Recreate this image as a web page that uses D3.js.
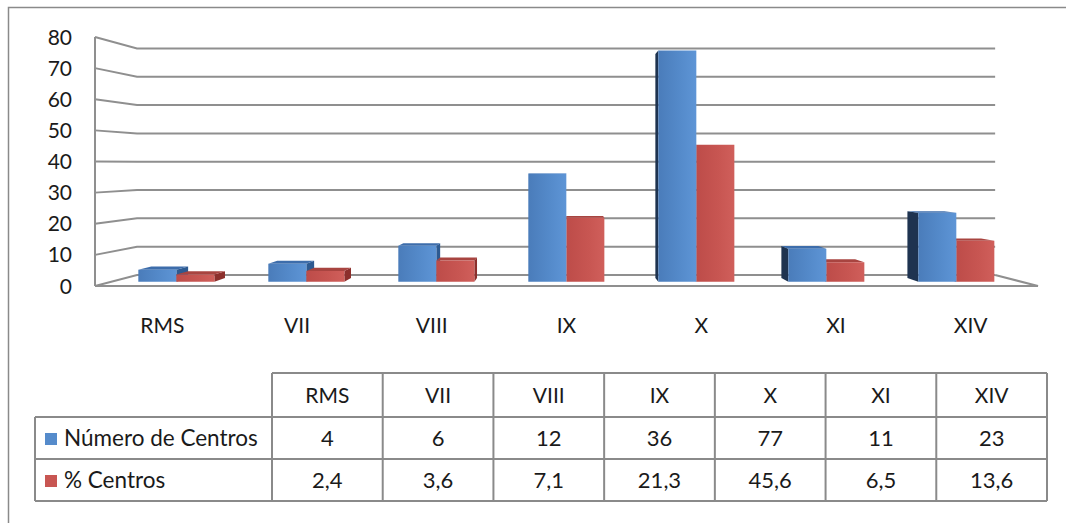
<!DOCTYPE html>
<html>
<head>
<meta charset="utf-8">
<script src="https://cdn.jsdelivr.net/npm/d3@7"></script>
<style>
  html, body { margin: 0; padding: 0; background: #fff; }
  svg { display: block; }
  text { font-family: Lato, "Open Sans", sans-serif; fill: #1a1a1a; }
</style>
</head>
<body>
<svg id="chart" width="1066" height="523"></svg>
<script>
// Centros por categoría: número absoluto y porcentaje
const categories = ["RMS", "VII", "VIII", "IX", "X", "XI", "XIV"];
const numeroCentros = [4, 6, 12, 36, 77, 11, 23];
const pctCentros = [2.4, 3.6, 7.1, 21.3, 45.6, 6.5, 13.6];
const seriesNames = ["Número de Centros", "% Centros"];
const yTicks = [0, 10, 20, 30, 40, 50, 60, 70, 80];

const palette = {
  "Número de Centros": { front: ["#4a7cba", "#558bcb", "#5e95d6"], top: "#3d6dab", right: "#2d5a91", left: "#1e3350" },
  "% Centros": { front: ["#bd4c49", "#c85652", "#d05f5b"], top: "#a84440", right: "#8c2f2c", left: "#5e1f1d" }
};

const esLocale = d3.formatLocale({ decimal: ",", thousands: ".", grouping: [3], currency: ["", " €"] });
const fmtPct = esLocale.format(".1f");
const fmtNum = esLocale.format("d");

const svg = d3.select("#chart");
const defs = svg.append("defs");

// Perspective of the 3-D plot box: front plane is drawn at depth 0, back wall at depth 1
const VX = 561.7, VY = 163.8, K = 0.0989;
function proj(px, py, d) {
  const s = 1 / (1 + K * d);
  return [VX + s * (px - VX), VY + s * (py - VY)];
}
const poly = pts => "M" + pts.map(p => p.join(",")).join("L") + "Z";
const line = pts => "M" + pts.map(p => p.join(",")).join("L");

const x = d3.scaleBand().domain(categories).range([95, 1038]).padding(0);
const y = d3.scaleLinear().domain([0, 80]).range([286, 37]);
const groupW = x.bandwidth() * 0.585;
const xs = d3.scaleBand().domain(seriesNames)
  .range([(x.bandwidth() - groupW) / 2, (x.bandwidth() + groupW) / 2]).padding(0);
const D0 = 0.367, D1 = 0.697;

// Outer frame
svg.append("rect")
  .attr("x", 8.5).attr("y", 7.5).attr("width", 1080).attr("height", 540)
  .attr("fill", "none").attr("stroke", "#8a8a8a").attr("stroke-width", 1.5);

// Walls and floor grid
const grid = svg.append("g").attr("fill", "none").attr("stroke", "#8f8f8f").attr("stroke-width", 2);
const [x0, x1] = x.range();
yTicks.forEach(t => {
  grid.append("path").attr("d", line([proj(x0, y(t), 0), proj(x0, y(t), 1), proj(x1, y(t), 1)]));
});
grid.append("path").attr("d", line([proj(x0, y(0), 0), proj(x1, y(0), 0), proj(x1, y(0), 1)]));
grid.append("path").attr("d", line([proj(x0, y(0), 0), proj(x0, y(80), 0)]));

// Y tick labels
svg.append("g").selectAll("text").data(yTicks).join("text")
  .attr("x", 72).attr("y", d => y(d)).attr("dy", "0.36em")
  .attr("text-anchor", "end").attr("font-size", 21)
  .text(d => d);

// Bars
seriesNames.forEach((s, si) => {
  const g = defs.append("linearGradient").attr("id", "grad" + si).attr("x1", 0).attr("x2", 1).attr("y1", 0).attr("y2", 0);
  g.append("stop").attr("offset", 0).attr("stop-color", palette[s].front[0]);
  g.append("stop").attr("offset", 0.6).attr("stop-color", palette[s].front[1]);
  g.append("stop").attr("offset", 1).attr("stop-color", palette[s].front[2]);
});

const bars = [];
categories.forEach((c, i) => {
  [numeroCentros[i], pctCentros[i]].forEach((v, si) => {
    const s = seriesNames[si];
    const bx0 = x(c) + xs(s), bx1 = bx0 + xs.bandwidth();
    bars.push({ s, si, v, bx0, bx1, dist: Math.abs((bx0 + bx1) / 2 - VX) });
  });
});
bars.sort((a, b) => b.dist - a.dist);

const barG = svg.append("g");
bars.forEach(b => {
  const top = y(b.v), base = y(0);
  const g = barG.append("g");
  const col = palette[b.s];
  if (b.bx1 < VX) {
    g.append("path").attr("fill", col.right)
      .attr("d", poly([proj(b.bx1, top, D0), proj(b.bx1, top, D1), proj(b.bx1, base, D1), proj(b.bx1, base, D0)]));
  }
  if (b.bx0 > VX) {
    g.append("path").attr("fill", col.left)
      .attr("d", poly([proj(b.bx0, top, D0), proj(b.bx0, top, D1), proj(b.bx0, base, D1), proj(b.bx0, base, D0)]));
  }
  if (top > VY) {
    g.append("path").attr("fill", col.top)
      .attr("d", poly([proj(b.bx0, top, D0), proj(b.bx1, top, D0), proj(b.bx1, top, D1), proj(b.bx0, top, D1)]));
  }
  g.append("path").attr("fill", `url(#grad${b.si})`)
    .attr("d", poly([proj(b.bx0, top, D0), proj(b.bx1, top, D0), proj(b.bx1, base, D0), proj(b.bx0, base, D0)]));
});

// Category labels
svg.append("g").selectAll("text").data(categories).join("text")
  .attr("x", d => x(d) + x.bandwidth() / 2).attr("y", 325).attr("dy", "0.36em")
  .attr("text-anchor", "middle").attr("font-size", 21)
  .text(d => d);

// Data table
const tLeft = 35, tFirst = 272, tRight = 1047;
const rowY = [373, 417, 459, 501];
const tx = d3.scaleBand().domain(categories).range([tFirst, tRight]).padding(0);
const table = svg.append("g");
const tl = table.append("g").attr("fill", "none").attr("stroke", "#8a8a8a").attr("stroke-width", 2);
tl.append("path").attr("d", line([[tFirst, rowY[0]], [tRight, rowY[0]]]));
tl.append("path").attr("d", line([[tLeft, rowY[1]], [tRight, rowY[1]]]));
tl.append("path").attr("d", line([[tLeft, rowY[2]], [tRight, rowY[2]]]));
tl.append("path").attr("d", line([[tLeft, rowY[3]], [tRight, rowY[3]]]));
tl.append("path").attr("d", line([[tLeft, rowY[1]], [tLeft, rowY[3]]]));
categories.concat(["_end"]).forEach((c, i) => {
  const xx = c === "_end" ? tRight : tx(c);
  tl.append("path").attr("d", line([[xx, rowY[0]], [xx, rowY[3]]]));
});

table.append("g").selectAll("text").data(categories).join("text")
  .attr("x", d => tx(d) + tx.bandwidth() / 2).attr("y", (rowY[0] + rowY[1]) / 2).attr("dy", "0.36em")
  .attr("text-anchor", "middle").attr("font-size", 21).text(d => d);

const rows = [numeroCentros.map(fmtNum), pctCentros.map(fmtPct)];
rows.forEach((vals, ri) => {
  const cy = (rowY[ri + 1] + rowY[ri + 2]) / 2;
  table.append("g").selectAll("text").data(vals).join("text")
    .attr("x", (d, i) => tx(categories[i]) + tx.bandwidth() / 2).attr("y", cy).attr("dy", "0.36em")
    .attr("text-anchor", "middle").attr("font-size", 22).text(d => d);
  table.append("rect").attr("x", 45).attr("y", cy - 5).attr("width", 12).attr("height", 12)
    .attr("fill", palette[seriesNames[ri]].front[1]);
  table.append("text").attr("x", 64).attr("y", cy).attr("dy", "0.36em")
    .attr("font-size", 22.5).text(seriesNames[ri]);
});
</script>
</body>
</html>
